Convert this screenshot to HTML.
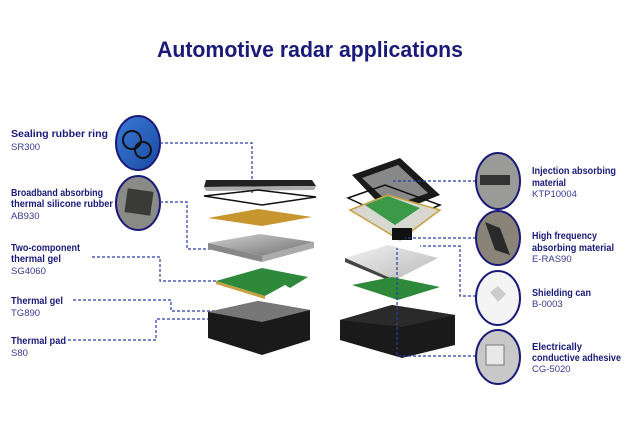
<!DOCTYPE html>
<html><head><meta charset="utf-8"><style>
html,body{margin:0;padding:0;background:#fff;}
svg{display:block;font-family:"Liberation Sans",Arial,sans-serif;}
.b{font-weight:bold;font-size:10px;fill:#1a1a78;}
.n{font-size:9.5px;fill:#3a3a90;}
.d{fill:none;stroke:#2a3aa8;stroke-width:1.2;stroke-dasharray:3,2;}
.c{stroke:#1a1a78;stroke-width:2;}
</style></head><body>
<svg width="637" height="424" viewBox="0 0 637 424">
<defs>
<linearGradient id="blue" x1="0" y1="0" x2="1" y2="1"><stop offset="0" stop-color="#3a7ad8"/><stop offset="1" stop-color="#1a4aa0"/></linearGradient>
<linearGradient id="gray" x1="0" y1="0" x2="1" y2="1"><stop offset="0" stop-color="#d0d0d0"/><stop offset="1" stop-color="#707070"/></linearGradient>
<linearGradient id="lg" x1="0" y1="0" x2="1" y2="1"><stop offset="0" stop-color="#f2f2f2"/><stop offset="1" stop-color="#b8b8b8"/></linearGradient>
</defs>
<text x="157" y="57" font-size="22" font-weight="bold" fill="#1a1a78" textLength="306" lengthAdjust="spacingAndGlyphs">Automotive radar applications</text>

<!-- left labels -->
<text class="b" x="11" y="137" textLength="97" lengthAdjust="spacingAndGlyphs">Sealing rubber ring</text>
<text class="n" x="11" y="150">SR300</text>
<text class="b" x="11" y="196" textLength="92" lengthAdjust="spacingAndGlyphs">Broadband absorbing</text>
<text class="b" x="11" y="207" textLength="102" lengthAdjust="spacingAndGlyphs">thermal silicone rubber</text>
<text class="n" x="11" y="219">AB930</text>
<text class="b" x="11" y="251" textLength="69" lengthAdjust="spacingAndGlyphs">Two-component</text>
<text class="b" x="11" y="262" textLength="50" lengthAdjust="spacingAndGlyphs">thermal gel</text>
<text class="n" x="11" y="274">SG4060</text>
<text class="b" x="11" y="304" textLength="52" lengthAdjust="spacingAndGlyphs">Thermal gel</text>
<text class="n" x="11" y="316">TG890</text>
<text class="b" x="11" y="344" textLength="55" lengthAdjust="spacingAndGlyphs">Thermal pad</text>
<text class="n" x="11" y="356">S80</text>

<!-- left circles -->
<ellipse cx="138" cy="143" rx="22" ry="27" fill="url(#blue)" class="c"/>
<circle cx="132" cy="140" r="9" fill="none" stroke="#111" stroke-width="2"/>
<circle cx="143" cy="150" r="8" fill="none" stroke="#111" stroke-width="2"/>
<ellipse cx="138" cy="203" rx="22" ry="27" fill="#8a8a86" class="c"/>
<rect x="126" y="190" width="26" height="24" fill="#3a3a38" transform="rotate(8 139 202)"/>

<!-- left connectors -->
<path class="d" d="M160 143 H252 V193"/>
<path class="d" d="M160 202 H187 V249 H275"/>
<path class="d" d="M92 257 H160 V281 H230"/>
<path class="d" d="M73 300 H171 V311 H245"/>
<path class="d" d="M68 340 H156 V319 H248"/>

<!-- left stack -->
<polygon points="206,180 312,180 316,186 204,187" fill="#222"/>
<polygon points="204,187 316,186 314,190 206,191" fill="#aaa"/>
<polygon points="204,196 258,190 316,197 262,205" fill="none" stroke="#111" stroke-width="1.5"/>
<polygon points="208,218 258,209 312,217 262,226" fill="#c8962e"/>
<polygon points="208,243 260,234 314,242 262,256" fill="url(#gray)"/>
<polygon points="208,243 262,256 262,262 208,249" fill="#888"/>
<polygon points="262,256 314,242 314,248 262,262" fill="#aaa"/>
<polygon points="216,281 262,268 308,277 290,288 285,285 265,296" fill="#2e8a3a"/>
<polygon points="216,281 265,296 265,299 216,284" fill="#c8a040"/>
<polygon points="208,312 258,301 310,310 310,340 262,355 208,338" fill="#1a1a1a"/>
<polygon points="208,312 258,301 310,310 262,322" fill="#777"/>

<!-- right stack -->
<polygon points="352,175 400,158 440,195 390,215" fill="#1a1a1a"/>
<polygon points="362,178 398,165 428,193 392,206" fill="#888"/>
<polygon points="348,198 385,185 440,205 400,222" fill="none" stroke="#111" stroke-width="1.5"/>
<polygon points="350,210 388,195 440,210 400,240" fill="#d8d8d0" stroke="#c8a040" stroke-width="1.5"/>
<polygon points="365,205 388,196 420,208 395,225" fill="#3a9a48"/>
<rect x="392" y="228" width="20" height="12" fill="#111"/>
<polygon points="345,258 388,245 438,258 395,280" fill="url(#lg)"/>
<polygon points="345,258 395,280 395,283 345,262" fill="#444"/>
<polygon points="352,285 392,277 440,287 398,300" fill="#2e8a3a"/>
<polygon points="340,320 392,305 455,315 455,345 402,358 340,340" fill="#1a1a1a"/>
<polygon points="340,320 392,305 455,315 402,327" fill="#2a2a2a"/>

<!-- right connectors -->
<path class="d" d="M476 181 H392"/>
<path class="d" d="M476 238 H405"/>
<path class="d" d="M476 296 H460 V246 H420"/>
<path class="d" d="M476 356 H397 V248"/>

<!-- right circles -->
<ellipse cx="498" cy="181" rx="22" ry="28" fill="#9a9a98" class="c"/>
<rect x="480" y="175" width="30" height="10" fill="#333"/>
<ellipse cx="498" cy="238" rx="22" ry="27" fill="#8a8478" class="c"/>
<polygon points="485,222 500,228 510,255 495,250" fill="#2a2a2a"/>
<ellipse cx="498" cy="298" rx="22" ry="27" fill="#f4f4f4" class="c"/>
<polygon points="490,292 498,286 506,294 498,302" fill="#ccc"/>
<ellipse cx="498" cy="357" rx="22" ry="27" fill="#c8c8c8" class="c"/>
<rect x="486" y="345" width="18" height="20" fill="#e8e8e8" stroke="#777"/>

<!-- right labels -->
<text class="b" x="532" y="174" textLength="84" lengthAdjust="spacingAndGlyphs">Injection absorbing</text>
<text class="b" x="532" y="186" textLength="34" lengthAdjust="spacingAndGlyphs">material</text>
<text class="n" x="532" y="197">KTP10004</text>
<text class="b" x="532" y="239" textLength="65" lengthAdjust="spacingAndGlyphs">High frequency</text>
<text class="b" x="532" y="251" textLength="82" lengthAdjust="spacingAndGlyphs">absorbing material</text>
<text class="n" x="532" y="262">E-RAS90</text>
<text class="b" x="532" y="296" textLength="59" lengthAdjust="spacingAndGlyphs">Shielding can</text>
<text class="n" x="532" y="307">B-0003</text>
<text class="b" x="532" y="350" textLength="50" lengthAdjust="spacingAndGlyphs">Electrically</text>
<text class="b" x="532" y="361" textLength="89" lengthAdjust="spacingAndGlyphs">conductive adhesive</text>
<text class="n" x="532" y="372">CG-5020</text>
</svg>
</body></html>
